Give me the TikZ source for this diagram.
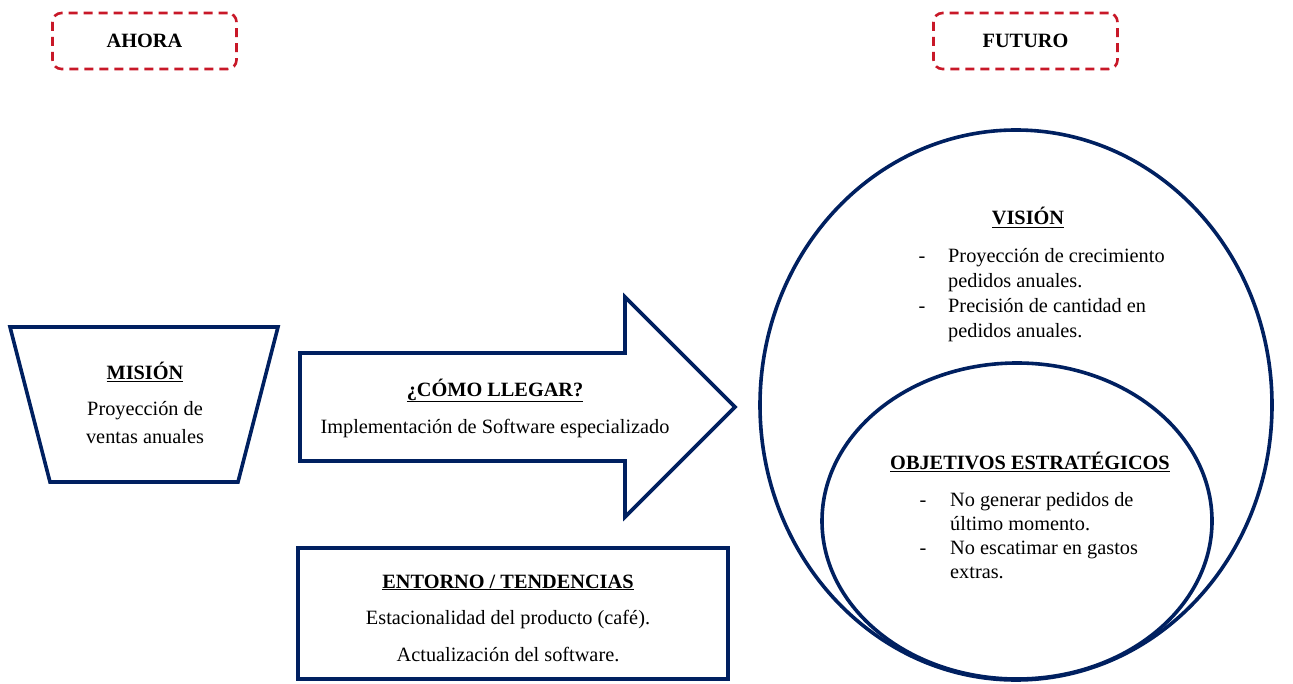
\documentclass[tikz,border=0pt]{standalone}
\usepackage{fontspec}
\setmainfont{Liberation Serif}
\definecolor{navy}{RGB}{0,32,96}
\definecolor{dred}{RGB}{200,24,40}
\begin{document}
\begin{tikzpicture}[x=1pt,y=-1pt,
  txt/.style={font=\fontsize{20.3}{24.5}\selectfont, inner sep=0pt, text=black},
  ttl/.style={font=\fontsize{20.3}{24.5}\selectfont\bfseries, inner sep=0pt, text=black},
  navyline/.style={draw=navy, line width=3.6pt, line join=miter},
  tagbox/.style={draw=dred, line width=2.6pt, dash pattern=on 9pt off 6pt,
    rounded corners=9pt, minimum width=184pt, minimum height=56pt}]
\useasboundingbox (0,0) rectangle (1293,684);

% tags
\node[tagbox, ttl] (ahora) at (144.5,41) {AHORA};
\node[tagbox, ttl] (futuro) at (1025.5,41) {FUTURO};

% mision trapezoid
\draw[navyline] (10,327) -- (278,327) -- (238,482) -- (50,482) -- cycle;
\node[ttl, anchor=base] (misT) at (145,380) {\underline{MISIÓN}};
\node[txt, anchor=base] (mis1) at (145,416) {Proyección de};
\node[txt, anchor=base] (mis2) at (145,443) {ventas anuales};

% arrow
\draw[navyline] (300,353) -- (625,353) -- (625,297) -- (735,407) -- (625,517) -- (625,461) -- (300,461) -- cycle;
\node[ttl, anchor=base] (comoT) at (495,396) {\underline{¿CÓMO LLEGAR?}};
\node[txt, anchor=base] (como1) at (495,433) {Implementación de Software especializado};

% entorno box
\draw[navyline] (298,548) rectangle (728,679);
\node[ttl, anchor=base] (entT) at (508,588) {\underline{ENTORNO / TENDENCIAS}};
\node[txt, anchor=base] (ent1) at (508,624) {Estacionalidad del producto (café).};
\node[txt, anchor=base] (ent2) at (508,661) {Actualización del software.};

% ellipses
\draw[navyline] (1016,405) ellipse [x radius=256pt, y radius=275pt];
\draw[navyline] (1017,521) ellipse [x radius=195pt, y radius=158pt];

% vision
\node[ttl, anchor=base] (visT) at (1028,225) {\underline{VISIÓN}};
\node[txt, anchor=base] (visD1) at (922,263) {-};
\node[txt, anchor=base west] (vis1a) at (948,263) {Proyección de crecimiento};
\node[txt, anchor=base west] (vis1b) at (948,288) {pedidos anuales.};
\node[txt, anchor=base] (visD2) at (922,313) {-};
\node[txt, anchor=base west] (vis2a) at (948,313) {Precisión de cantidad en};
\node[txt, anchor=base west] (vis2b) at (948,338) {pedidos anuales.};

% objetivos
\node[ttl, anchor=base] (objT) at (1030,469) {\underline{OBJETIVOS ESTRATÉGICOS}};
\node[txt, anchor=base] (objD1) at (923,506) {-};
\node[txt, anchor=base west] (obj1a) at (950,506) {No generar pedidos de};
\node[txt, anchor=base west] (obj1b) at (950,530) {último momento.};
\node[txt, anchor=base] (objD2) at (923,554) {-};
\node[txt, anchor=base west] (obj2a) at (950,554) {No escatimar en gastos};
\node[txt, anchor=base west] (obj2b) at (950,578) {extras.};
\end{tikzpicture}
\end{document}
